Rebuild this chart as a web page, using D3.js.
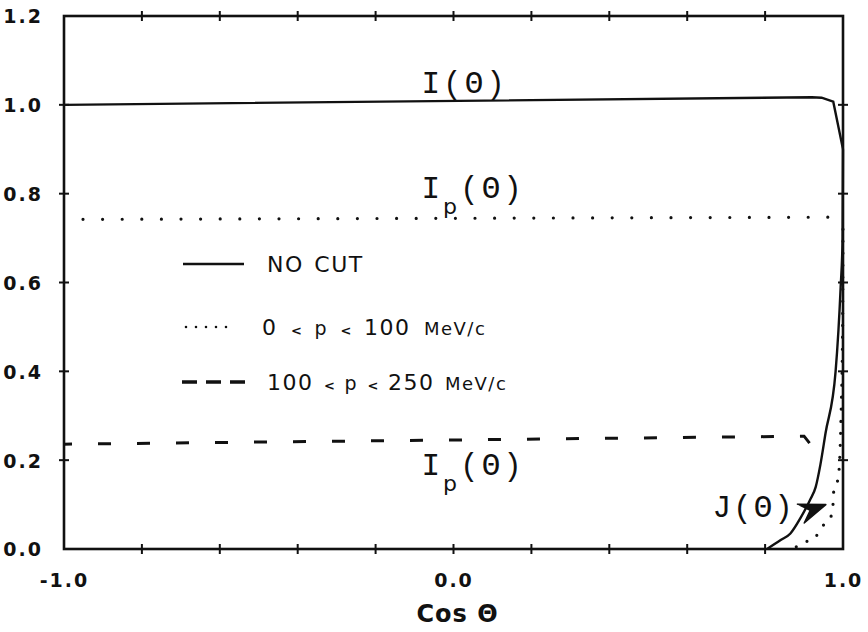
<!DOCTYPE html>
<html>
<head>
<meta charset="utf-8">
<script src="https://cdn.jsdelivr.net/npm/d3@7"></script>
<style>
  html, body { margin: 0; padding: 0; background: #fff; }
  svg { display: block; }
</style>
</head>
<body>
<svg id="chart" width="868" height="632"></svg>
<script>
// Angular distributions vs cos(theta)
const xTicksAll = [-1.0, -0.8, -0.6, -0.4, -0.2, 0.0, 0.2, 0.4, 0.6, 0.8, 1.0];
const xTickLabels = [-1.0, 0.0, 1.0];
const yTicks = [0.0, 0.2, 0.4, 0.6, 0.8, 1.0, 1.2];

// I(theta), no momentum cut
const noCutI = [[-1.0, 1.0], [0.92, 1.017], [0.945, 1.016], [0.975, 1.007], [1.0, 0.90]];
// J(theta), no momentum cut
const noCutJ = [[0.805, 0.0], [0.84, 0.02], [0.865, 0.035], [0.891, 0.07], [0.915, 0.11],
                [0.93, 0.14], [0.942, 0.19], [0.955, 0.26], [0.981, 0.40], [0.994, 0.59],
                [0.999, 0.70], [1.0, 0.90]];
// 0 < p < 100 MeV/c
const lowPI = [[-1.0, 0.742], [0.965, 0.747]];
const lowPJ = [[0.88, 0.005], [0.904, 0.016], [0.929, 0.027], [0.950, 0.054], [0.973, 0.081],
               [0.976, 0.128], [0.988, 0.162], [0.995, 0.30], [0.999, 0.50], [1.0, 0.745]];
// 100 < p < 250 MeV/c
const midPI = [[-1.0, 0.236], [0.90, 0.254], [0.935, 0.215], [0.95, 0.19]];

// label anchors in data units
const labelI = [0.0, 1.027];
const labelIpHigh = [0.0, 0.79];
const labelIpLow = [0.0, 0.167];
const labelJ = [0.665, 0.072];
const jArrowTail = [0.899, 0.082];
const jArrowTip = [0.956, 0.10];

const svg = d3.select("#chart");
const mLeft = 64, mRight = 843, mTop = 16, mBottom = 549;

const x = d3.scaleLinear().domain([-1, 1]).range([mLeft, mRight]);
const y = d3.scaleLinear().domain([0, 1.2]).range([mBottom, mTop]);

const ink = "#111";

// frame
svg.append("rect")
  .attr("x", mLeft).attr("y", mTop)
  .attr("width", mRight - mLeft).attr("height", mBottom - mTop)
  .attr("fill", "none").attr("stroke", ink).attr("stroke-width", 2.6);

// crossing tick marks on all four sides
const tk = 5;
const tg = svg.append("g").attr("stroke", ink).attr("stroke-width", 2);
xTicksAll.slice(1, -1).forEach(v => {
  tg.append("line").attr("x1", x(v)).attr("x2", x(v)).attr("y1", mBottom - tk).attr("y2", mBottom + tk);
  tg.append("line").attr("x1", x(v)).attr("x2", x(v)).attr("y1", mTop - tk).attr("y2", mTop + tk);
});
yTicks.slice(1, -1).forEach(v => {
  tg.append("line").attr("y1", y(v)).attr("y2", y(v)).attr("x1", mLeft - tk).attr("x2", mLeft + tk);
  tg.append("line").attr("y1", y(v)).attr("y2", y(v)).attr("x1", mRight - tk).attr("x2", mRight + tk);
});

// tick labels via d3 axes (tick lines drawn above)
const fmt = v => d3.format(".1f")(v).replace("\u2212", "-");
const yAxis = svg.append("g")
  .attr("transform", `translate(${mLeft},0)`)
  .call(d3.axisLeft(y).tickValues(yTicks).tickSize(0).tickPadding(21).tickFormat(fmt));
const xAxis = svg.append("g")
  .attr("transform", `translate(0,${mBottom})`)
  .call(d3.axisBottom(x).tickValues(xTickLabels).tickSize(0).tickPadding(25).tickFormat(fmt));
[yAxis, xAxis].forEach(g => {
  g.select(".domain").remove();
  g.selectAll("text")
    .attr("fill", ink)
    .style("font-family", "'DejaVu Sans', sans-serif")
    .style("font-weight", "bold")
    .style("font-size", "19px")
    .style("letter-spacing", "2px");
});
yAxis.selectAll("text").attr("dy", "0.36em");
xAxis.selectAll("text").attr("dy", "0.71em");

// x-axis title
svg.append("text")
  .attr("x", x(0) + 4).attr("y", 622)
  .attr("text-anchor", "middle")
  .attr("fill", ink)
  .style("font-family", "'DejaVu Sans', sans-serif")
  .style("font-weight", "bold")
  .style("font-size", "24px")
  .style("letter-spacing", "1px")
  .text("Cos Θ");

const line = d3.line().x(d => x(d[0])).y(d => y(d[1]));
const curve = d3.line().x(d => x(d[0])).y(d => y(d[1])).curve(d3.curveMonotoneX);

// curves
svg.append("path").attr("d", line(noCutI))
  .attr("fill", "none").attr("stroke", ink).attr("stroke-width", 2.4);
svg.append("path").attr("d", curve(noCutJ))
  .attr("fill", "none").attr("stroke", ink).attr("stroke-width", 2.4);
svg.append("path").attr("d", line(lowPI))
  .attr("fill", "none").attr("stroke", ink).attr("stroke-width", 3.2)
  .attr("stroke-linecap", "round").attr("stroke-dasharray", "0 19.6")
  .attr("stroke-dashoffset", -19);
svg.append("path").attr("d", curve(lowPJ))
  .attr("fill", "none").attr("stroke", ink).attr("stroke-width", 3.2)
  .attr("stroke-linecap", "round").attr("stroke-dasharray", "0 12");
svg.append("path").attr("d", line(midPI))
  .attr("fill", "none").attr("stroke", ink).attr("stroke-width", 3)
  .attr("stroke-dasharray", "13 26").attr("stroke-dashoffset", 5);

// curve labels
const monoFont = "'Liberation Mono', 'DejaVu Sans Mono', monospace";
function funcLabel(pos, sub, size) {
  const t = svg.append("text")
    .attr("x", x(pos[0]) - 32).attr("y", y(pos[1]))
    .attr("fill", ink)
    .style("font-family", monoFont)
    .style("font-size", size + "px")
    .style("letter-spacing", "3px");
  t.append("tspan").text("I");
  if (sub) {
    t.append("tspan").attr("dy", 16).style("font-size", "22px").style("font-family", "'DejaVu Sans', sans-serif").text("p");
    t.append("tspan").attr("dy", -16).text("(Θ)");
  } else {
    t.append("tspan").text("(Θ)");
  }
}
funcLabel(labelI, false, 31);
funcLabel(labelIpHigh, true, 31);
funcLabel(labelIpLow, true, 31);

svg.append("text")
  .attr("x", x(labelJ[0])).attr("y", y(labelJ[1]))
  .attr("fill", ink)
  .style("font-family", monoFont)
  .style("font-size", "31px")
  .style("letter-spacing", "2px")
  .text("J(Θ)");

// arrowhead pointing from the J label onto the curve
(function () {
  const tx = x(jArrowTip[0]), ty = y(jArrowTip[1]);
  const bx = x(jArrowTail[0]), by = y(jArrowTail[1]);
  const dx = tx - bx, dy = ty - by, len = Math.hypot(dx, dy);
  const ux = dx / len, uy = dy / len, px = -uy, py = ux;
  const w = 10, notch = 7;
  const pts = [
    [tx, ty],
    [bx + px * w - ux * 3, by + py * w - uy * 3],
    [bx + ux * notch, by + uy * notch],
    [bx - px * w - ux * 3, by - py * w - uy * 3]
  ];
  svg.append("path")
    .attr("d", "M" + pts.map(p => p.join(",")).join("L") + "Z")
    .attr("fill", ink).attr("stroke", ink).attr("stroke-width", 1.5)
    .attr("stroke-linejoin", "round");
})();

// legend
const legendRows = [
  { label: "NO CUT", style: "solid", yPos: 264, x1: 183, x2: 244 },
  { label: ["0", "<", "p", "<", "100 MeV/c"], style: "dot", yPos: 327, x1: 186, x2: 236 },
  { label: ["100", "<", "p", "<", "250 MeV/c"], style: "dash", yPos: 382, x1: 182, x2: 248 }
];
const lg = svg.append("g");
legendRows.forEach(r => {
  const l = lg.append("line")
    .attr("x1", r.x1).attr("x2", r.x2).attr("y1", r.yPos).attr("y2", r.yPos)
    .attr("stroke", ink);
  if (r.style === "solid") l.attr("stroke-width", 2.4);
  if (r.style === "dot") l.attr("stroke-width", 2.6).attr("stroke-linecap", "round").attr("stroke-dasharray", "0 10");
  if (r.style === "dash") l.attr("stroke-width", 3.4).attr("stroke-dasharray", "15 9");
  const t = lg.append("text")
    .attr("x", r.style === "dot" ? 262 : 267).attr("y", r.yPos + 8)
    .attr("fill", ink)
    .style("font-family", "'DejaVu Sans', sans-serif")
    .style("font-size", "22px")
    .style("letter-spacing", "1.5px")
    .style("word-spacing", r.style === "dot" ? "5px" : "2px");
  if (typeof r.label === "string") {
    t.text(r.label);
  } else {
    r.label.forEach((s, i) => {
      const sp = t.append("tspan").text((i ? " " : "") + s + (i < r.label.length - 1 ? " " : ""));
      if (s === "<") sp.style("font-size", "13px").style("font-weight", "bold");
      if (s === "p") sp.style("font-size", "19px");
      if (s.includes("MeV")) {
        sp.text("");
        sp.append("tspan").text(" " + s.split(" ")[0] + " ");
        sp.append("tspan").style("font-size", "18px").text(s.split(" ")[1]);
      }
    });
  }
});
</script>
</body>
</html>
